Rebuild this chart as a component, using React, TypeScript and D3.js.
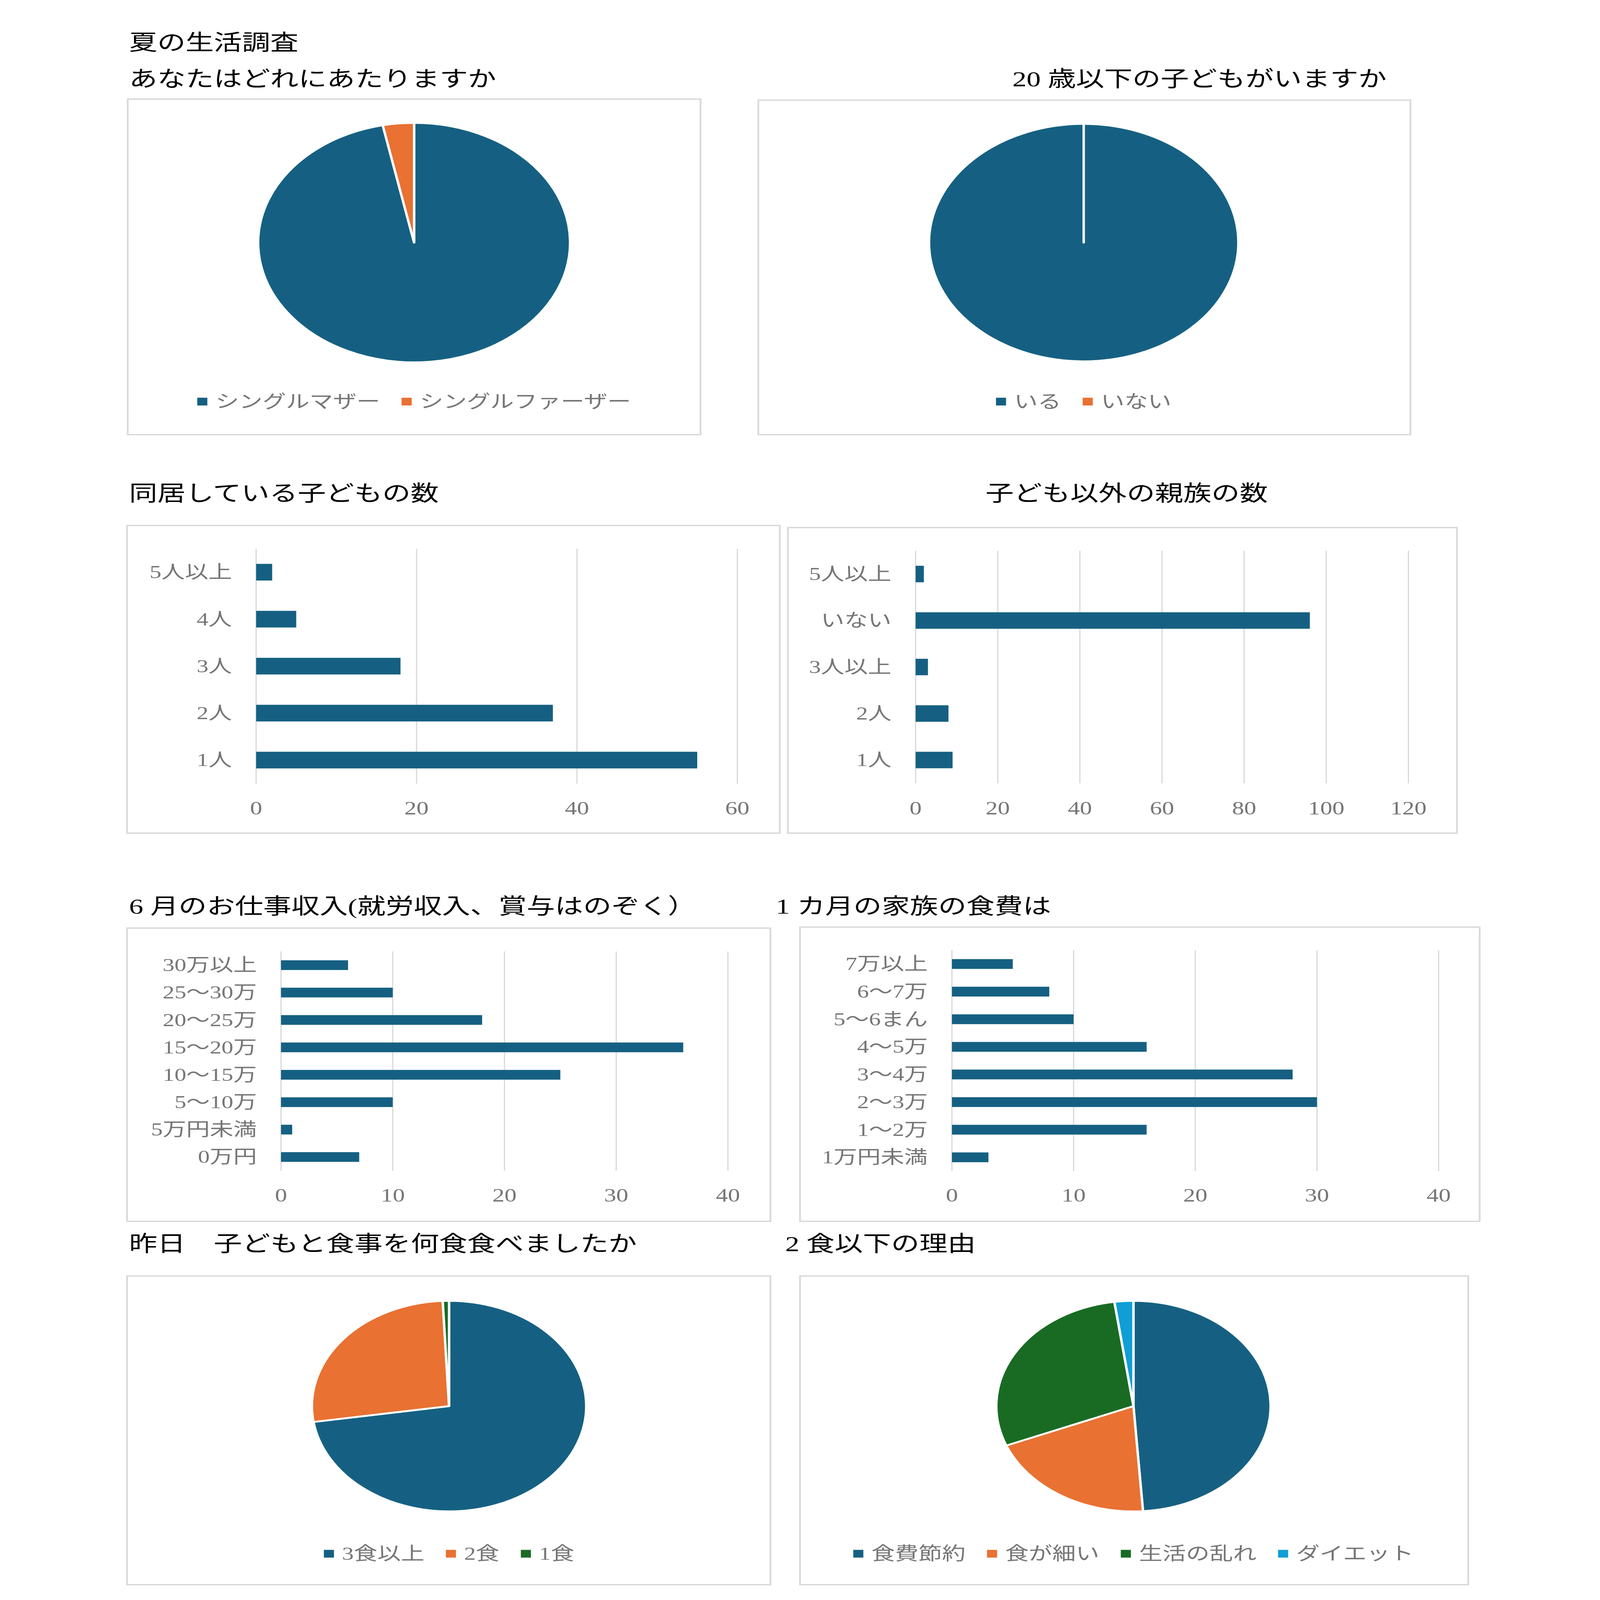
import React, { useEffect, useRef } from 'react';
import * as d3 from 'd3';

// page is laid out in a 1190-wide coordinate space (the reference's proportions)
// and stretched onto whatever window the page gets
const VW = 1190;
const VH = (1190 * 5384) / 4134;

const BLUE = '#156082';
const ORANGE = '#E97132';
const GREEN = '#196B24';
const CYAN = '#0F9ED5';
const GRID = '#D9D9D9';
const LABEL = '#767676';
const FONT = "'Liberation Serif', 'Noto Sans CJK JP', serif";

// あなたはどれにあたりますか
const parentTypes = ['シングルマザー', 'シングルファーザー'];
const parentCounts = [120, 4];

// 20歳以下の子どもがいますか
const under20Types = ['いる', 'いない'];
const under20Counts = [125, 0];

// 同居している子どもの数
const childCats = ['5人以上', '4人', '3人', '2人', '1人'];
const childCounts = [2, 5, 18, 37, 55];
const childTicks = [0, 20, 40, 60];

// 子ども以外の親族の数
const relativeCats = ['5人以上', 'いない', '3人以上', '2人', '1人'];
const relativeCounts = [2, 96, 3, 8, 9];
const relativeTicks = [0, 20, 40, 60, 80, 100, 120];

// 6月のお仕事収入
const incomeCats = ['30万以上', '25～30万', '20～25万', '15～20万', '10～15万', '5～10万', '5万円未満', '0万円'];
const incomeCounts = [6, 10, 18, 36, 25, 10, 1, 7];
const incomeTicks = [0, 10, 20, 30, 40];

// 1カ月の家族の食費
const foodCats = ['7万以上', '6～7万', '5～6まん', '4～5万', '3～4万', '2～3万', '1～2万', '1万円未満'];
const foodCounts = [5, 8, 10, 16, 28, 30, 16, 3];
const foodTicks = [0, 10, 20, 30, 40];

// 昨日 子どもと食事を何食食べましたか
const mealCats = ['3食以上', '2食', '1食'];
const mealCounts = [98, 36, 1];

// 2食以下の理由
const reasonCats = ['食費節約', '食が細い', '生活の乱れ', 'ダイエット'];
const reasonCounts = [22, 9, 13, 1];

type G = d3.Selection<SVGGElement, unknown, null, undefined>;

const title = (g: G, text: string, x: number, y: number) => {
  g.append('text')
    .attr('x', x)
    .attr('y', y)
    .attr('font-size', 21)
    .attr('fill', '#000')
    .text(text);
};

const box = (g: G, x0: number, y0: number, x1: number, y1: number) => {
  g.append('rect')
    .attr('x', x0)
    .attr('y', y0)
    .attr('width', x1 - x0)
    .attr('height', y1 - y0)
    .attr('fill', '#fff')
    .attr('stroke', GRID)
    .attr('stroke-width', 1.3);
};

const pieChart = (
  g: G,
  cats: string[],
  vals: number[],
  colors: string[],
  cx: number,
  cy: number,
  r: number,
  legendY: number
) => {
  const pie = d3.pie<number>().sort(null).value(d => d);
  const arc = d3.arc<d3.PieArcDatum<number>>().innerRadius(0).outerRadius(r);
  const pg = g.append('g').attr('transform', `translate(${cx},${cy})`);
  pg.selectAll('path')
    .data(pie(vals))
    .enter()
    .append('path')
    .attr('d', arc)
    .attr('fill', (_d, i) => colors[i])
    .attr('stroke', '#fff')
    .attr('stroke-width', 1.8)
    .attr('stroke-linejoin', 'round')
    .attr('stroke-linecap', 'round');

  // legend, centred under the pie
  const sq = 7.5;
  const lg = g.append('g');
  const items = cats.map((c, i) => {
    const ig = lg.append('g');
    ig.append('rect')
      .attr('x', 0)
      .attr('y', legendY - sq / 2)
      .attr('width', sq)
      .attr('height', sq)
      .attr('fill', colors[i]);
    const t = ig.append('text')
      .attr('x', sq + 6)
      .attr('y', legendY)
      .attr('dominant-baseline', 'central')
      .attr('font-size', 17.5)
      .attr('fill', LABEL)
      .text(c);
    const w = sq + 6 + (t.node() as SVGTextElement).getComputedTextLength();
    return { ig, w };
  });
  const gap = 16;
  const total = d3.sum(items, d => d.w) + gap * (items.length - 1);
  let x = cx - total / 2;
  items.forEach(it => {
    it.ig.attr('transform', `translate(${x},0)`);
    x += it.w + gap;
  });
};

const barChart = (
  g: G,
  cats: string[],
  vals: number[],
  ticks: number[],
  x0: number,
  x1: number,
  y0: number,
  y1: number,
  tickY: number
) => {
  const x = d3.scaleLinear().domain([0, ticks[ticks.length - 1]]).range([x0, x1]);
  const y = d3.scaleBand<string>().domain(cats).range([y0, y1]).padding(0);
  const bh = y.bandwidth() / 2.82; // Excel gap width 182%

  g.selectAll(null)
    .data(ticks)
    .enter()
    .append('line')
    .attr('x1', d => x(d))
    .attr('x2', d => x(d))
    .attr('y1', y0)
    .attr('y2', y1)
    .attr('stroke', GRID)
    .attr('stroke-width', 0.9);

  g.selectAll(null)
    .data(vals)
    .enter()
    .append('rect')
    .attr('x', x(0))
    .attr('y', (_d, i) => y(cats[i])! + (y.bandwidth() - bh) / 2)
    .attr('width', d => x(d) - x(0))
    .attr('height', bh)
    .attr('fill', BLUE);

  g.selectAll(null)
    .data(cats)
    .enter()
    .append('text')
    .attr('x', x0 - 18)
    .attr('y', d => y(d)! + y.bandwidth() / 2)
    .attr('text-anchor', 'end')
    .attr('dominant-baseline', 'central')
    .attr('font-size', 17.5)
    .attr('fill', LABEL)
    .text(d => d);

  g.selectAll(null)
    .data(ticks)
    .enter()
    .append('text')
    .attr('x', d => x(d))
    .attr('y', tickY)
    .attr('text-anchor', 'middle')
    .attr('dominant-baseline', 'central')
    .attr('font-size', 18)
    .attr('fill', LABEL)
    .text(d => String(d));
};

const App: React.FC = () => {
  const svgRef = useRef<SVGSVGElement>(null);

  useEffect(() => {
    const svg = d3.select(svgRef.current);
    svg.selectAll('*').remove();
    const g = svg.append('g').attr('font-family', FONT) as unknown as G;

    title(g, '夏の生活調査', 96, 48.5);

    // row 1
    title(g, 'あなたはどれにあたりますか', 96, 83.5);
    title(g, '20 歳以下の子どもがいますか', 753, 83.5);
    box(g, 95, 96, 521, 421);
    box(g, 564, 97, 1049, 421);
    pieChart(g, parentTypes, parentCounts, [BLUE, ORANGE], 308, 235, 116, 389);
    pieChart(g, under20Types, under20Counts, [BLUE, ORANGE], 806, 235, 115, 389);

    // row 2
    title(g, '同居している子どもの数', 96, 485);
    title(g, '子ども以外の親族の数', 733, 485);
    box(g, 94.5, 509, 580, 807);
    box(g, 586, 511, 1083.6, 807);
    barChart(g, childCats, childCounts, childTicks, 190.5, 548.4, 531.5, 759, 783);
    barChart(g, relativeCats, relativeCounts, relativeTicks, 681, 1047.5, 533.5, 758.7, 783);

    // row 3
    title(g, '6 月のお仕事収入(就労収入、賞与はのぞく）', 96, 885);
    title(g, '1 カ月の家族の食費は', 577, 885);
    box(g, 94.5, 899, 573, 1183);
    box(g, 595, 898, 1100.5, 1183);
    barChart(g, incomeCats, incomeCounts, incomeTicks, 209, 541.4, 921.6, 1134, 1158);
    barChart(g, foodCats, foodCounts, foodTicks, 708, 1070, 920.4, 1134.4, 1158);

    // row 4
    title(g, '昨日　子どもと食事を何食食べましたか', 96, 1212);
    title(g, '2 食以下の理由', 584, 1212);
    box(g, 94.5, 1236, 573, 1535);
    box(g, 595, 1236, 1092, 1535);
    pieChart(g, mealCats, mealCounts, [BLUE, ORANGE, GREEN], 334, 1362, 102, 1505);
    pieChart(g, reasonCats, reasonCounts, [BLUE, ORANGE, GREEN, CYAN], 843, 1362, 102, 1505);
  }, []);

  return (
    <svg
      ref={svgRef}
      viewBox={`0 0 ${VW} ${VH}`}
      preserveAspectRatio="none"
      style={{ position: 'fixed', left: 0, top: 0, width: '100vw', height: '100vh', background: '#fff' }}
    />
  );
};

export default App;
